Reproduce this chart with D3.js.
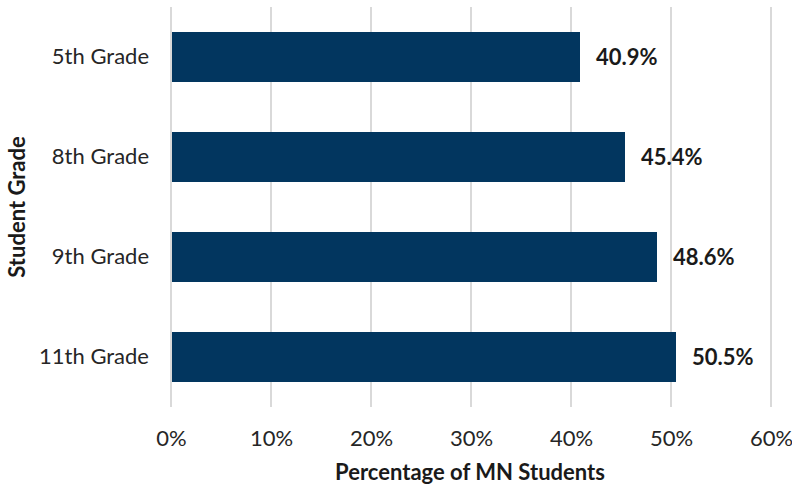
<!DOCTYPE html>
<html>
<head>
<meta charset="utf-8">
<script src="https://cdn.jsdelivr.net/npm/d3@7"></script>
<style>
  html, body { margin: 0; padding: 0; background: #fff; }
  svg { display: block; font-family: Lato, "Open Sans", sans-serif; }
</style>
</head>
<body>
<svg id="chart" width="792" height="489"></svg>
<script>
// Share of Minnesota students by grade
const grades = ["5th Grade", "8th Grade", "9th Grade", "11th Grade"];
const shares = [40.9, 45.4, 48.6, 50.5];
const tickValues = [0, 10, 20, 30, 40, 50, 60];
const xTitle = "Percentage of MN Students";
const yTitle = "Student Grade";

const svg = d3.select("#chart");
const plotLeft = 171, plotRight = 771, plotTop = 7, plotBottom = 407;
const fontSize = 22;

const x = d3.scaleLinear().domain([0, 60]).range([plotLeft, plotRight]);
const y = d3.scaleBand().domain(grades).range([plotTop, plotBottom]).paddingInner(0.5).paddingOuter(0.25);

// vertical gridlines
svg.append("g")
  .selectAll("line")
  .data(tickValues)
  .join("line")
  .attr("x1", d => x(d)).attr("x2", d => x(d))
  .attr("y1", plotTop).attr("y2", plotBottom)
  .attr("stroke", "#d9d9d9")
  .attr("stroke-width", 2);

// x axis tick labels
const xAxis = d3.axisBottom(x).tickValues(tickValues).tickFormat(d => d + "%").tickSize(0).tickPadding(0);
const gx = svg.append("g").attr("transform", `translate(0,${plotBottom})`).call(xAxis);
gx.select(".domain").remove();
gx.selectAll("text")
  .attr("dy", null)
  .attr("y", 39)
  .attr("font-size", fontSize)
  .attr("font-family", "Lato, sans-serif")
  .attr("fill", "#262626");

// y axis category labels
const yAxis = d3.axisLeft(y).tickSize(0).tickPadding(0);
const gy = svg.append("g").attr("transform", `translate(${plotLeft - 22},0)`).call(yAxis);
gy.select(".domain").remove();
gy.selectAll("text")
  .attr("font-size", fontSize)
  .attr("font-family", "Lato, sans-serif")
  .attr("fill", "#262626");

// bars
svg.append("g")
  .selectAll("rect")
  .data(grades)
  .join("rect")
  .attr("x", x(0) + 1)
  .attr("y", d => y(d))
  .attr("width", (d, i) => x(shares[i]) - x(0) - 1)
  .attr("height", y.bandwidth())
  .attr("fill", "#02365f");

// value labels
svg.append("g")
  .selectAll("text")
  .data(grades)
  .join("text")
  .attr("x", (d, i) => x(shares[i]) + 16)
  .attr("y", d => y(d) + y.bandwidth() / 2)
  .attr("dy", "0.35em")
  .attr("font-size", fontSize)
  .attr("font-weight", "bold")
  .attr("fill", "#1a1a1a")
  .text((d, i) => shares[i].toFixed(1) + "%");

// axis titles
svg.append("text")
  .attr("x", 470).attr("y", 480)
  .attr("text-anchor", "middle")
  .attr("font-size", fontSize)
  .attr("font-weight", "bold")
  .attr("fill", "#1a1a1a")
  .text(xTitle);

svg.append("text")
  .attr("transform", "translate(25,207) rotate(-90)")
  .attr("text-anchor", "middle")
  .attr("font-size", fontSize)
  .attr("font-weight", "bold")
  .attr("fill", "#1a1a1a")
  .text(yTitle);
</script>
</body>
</html>
